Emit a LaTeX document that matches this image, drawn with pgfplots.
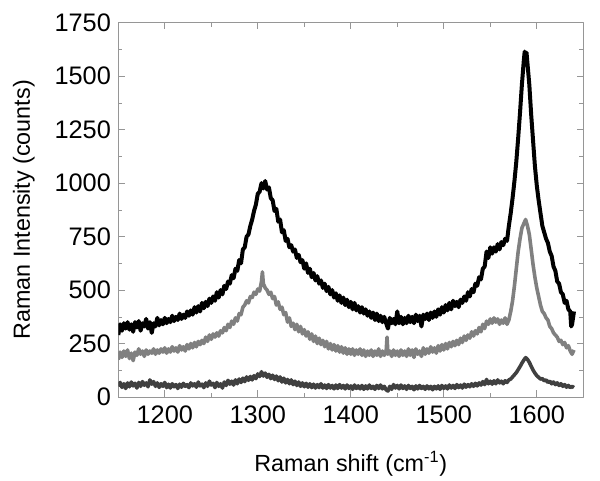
\documentclass[border=0pt]{standalone}
\usepackage{fontspec}
\setmainfont{Liberation Sans}
\usepackage{pgfplots}
\pgfplotsset{compat=1.18}

\definecolor{framegray}{RGB}{150,150,150}
\definecolor{midgray}{RGB}{128,128,128}
\definecolor{darkgray}{RGB}{64,64,64}

\begin{document}
\begin{tikzpicture}
\path[use as bounding box] (-88.7pt,-62.25pt) rectangle (361.3pt,297.75pt);
\begin{axis}[
    scale only axis,
    width=348.75pt, height=280.7pt,
    xmin=1150, xmax=1650,
    ymin=0, ymax=1750,
    xtick={1200,1300,1400,1500,1600},
    ytick={0,250,500,750,1000,1250,1500,1750},
    minor x tick num=1,
    minor y tick num=1,
    tick align=inside,
    major tick length=5pt,
    minor tick length=3pt,
    axis line style={framegray},
    every tick/.style={framegray},
    /pgf/number format/assume math mode=true,
    /pgf/number format/1000 sep={},
    tick label style={font=\fontsize{19}{21}\selectfont},
    xticklabel style={yshift=-3pt},
    yticklabel style={xshift=-2pt},
    label style={font=\fontsize{17.5}{20}\selectfont},
    xlabel={Raman shift (cm\textsuperscript{-1})},
    ylabel={Raman Intensity (counts)},
    xlabel style={yshift=-14pt},
    ylabel style={yshift=8pt},
    line join=round,
]
% top spectrum
\addplot[black, line width=3pt, mark=none] coordinates {
(1150,290) (1152,340) (1154,310) (1156,345) (1158,320) (1160,350) (1162,315) (1164,340) (1166,305) (1168,350)
(1170,325) (1172,355) (1174,310) (1176,345) (1178,330) (1180,365) (1182,320) (1184,350) (1186,300) (1188,345)
(1190,330) (1192,370) (1194,335) (1196,360) (1198,340) (1200,370) (1202,345) (1204,365) (1206,350) (1208,380)
(1210,355) (1212,375) (1214,360) (1216,390) (1218,365) (1220,385) (1222,370) (1224,400) (1226,380) (1228,405)
(1230,385) (1232,420) (1234,395) (1236,425) (1238,400) (1240,440) (1242,415) (1244,445) (1246,425) (1248,460)
(1250,440) (1252,470) (1254,450) (1256,490) (1258,465) (1260,500) (1262,480) (1264,520) (1266,505) (1268,540)
(1270,530) (1272,570) (1274,555) (1276,600) (1278,590) (1280,640) (1282,625) (1284,690) (1286,700) (1288,750)
(1290,760) (1292,800) (1294,830) (1296,870) (1298,900) (1300,950) (1302,960) (1304,1000) (1306,975) (1308,1010)
(1310,970) (1312,980) (1314,930) (1316,920) (1318,870) (1320,880) (1322,820) (1324,830) (1326,770) (1328,780)
(1330,730) (1332,740) (1334,700) (1336,710) (1338,680) (1340,690) (1342,650) (1344,665) (1346,630) (1348,640)
(1350,600) (1352,625) (1354,580) (1356,600) (1358,560) (1360,580) (1362,545) (1364,565) (1366,530) (1368,545)
(1370,510) (1372,530) (1374,495) (1376,515) (1378,480) (1380,500) (1382,465) (1384,485) (1386,450) (1388,475)
(1390,440) (1392,465) (1394,430) (1396,455) (1398,420) (1400,445) (1402,410) (1404,440) (1406,405) (1408,425)
(1410,395) (1412,420) (1414,390) (1416,410) (1418,380) (1420,400) (1422,370) (1424,395) (1426,360) (1428,390)
(1430,355) (1432,380) (1434,350) (1436,375) (1438,345) (1440,320) (1442,370) (1444,345) (1446,365) (1448,340)
(1450,400) (1452,345) (1454,375) (1456,340) (1458,370) (1460,345) (1462,380) (1464,350) (1466,375) (1468,345)
(1470,385) (1472,355) (1474,380) (1476,330) (1478,385) (1480,365) (1482,390) (1484,360) (1486,395) (1488,370)
(1490,400) (1492,375) (1494,410) (1496,385) (1498,420) (1500,395) (1502,430) (1504,405) (1506,440) (1508,410)
(1510,450) (1512,425) (1514,445) (1516,420) (1518,455) (1520,440) (1522,470) (1524,450) (1526,490) (1528,470)
(1530,505) (1532,490) (1534,530) (1536,520) (1538,560) (1540,550) (1542,600) (1544,610) (1546,680) (1548,650)
(1550,700) (1552,670) (1554,700) (1556,680) (1558,715) (1560,690) (1562,725) (1564,710) (1566,740) (1568,730)
(1570,800) (1572,860) (1574,930) (1576,1010) (1578,1100) (1580,1210) (1582,1330) (1584,1460) (1586,1570) (1587,1615)
(1588,1590) (1589,1610) (1590,1560) (1592,1460) (1594,1320) (1596,1200) (1598,1080) (1600,990) (1602,920) (1604,860)
(1606,800) (1608,770) (1610,740) (1612,720) (1614,680) (1616,660) (1618,610) (1620,590) (1622,540) (1624,530)
(1626,490) (1628,480) (1630,440) (1632,450) (1634,410) (1636,400) (1637,330) (1638,340) (1640,400)
};
% middle spectrum
\addplot[midgray, line width=2.7pt, mark=none] coordinates {
(1150,175) (1152,210) (1154,185) (1156,215) (1158,190) (1160,220) (1162,180) (1164,205) (1166,170) (1168,210)
(1170,195) (1172,225) (1174,200) (1176,215) (1178,190) (1180,220) (1182,200) (1184,215) (1186,205) (1188,225)
(1190,200) (1192,220) (1194,205) (1196,225) (1198,210) (1200,230) (1202,205) (1204,225) (1206,210) (1208,235)
(1210,215) (1212,230) (1214,210) (1216,240) (1218,220) (1220,235) (1222,215) (1224,245) (1226,225) (1228,250)
(1230,230) (1232,255) (1234,235) (1236,260) (1238,245) (1240,265) (1242,250) (1244,280) (1246,260) (1248,290)
(1250,270) (1252,295) (1254,280) (1256,300) (1258,285) (1260,310) (1262,300) (1264,325) (1266,310) (1268,340)
(1270,325) (1272,355) (1274,340) (1276,370) (1278,355) (1280,390) (1282,385) (1284,420) (1286,430) (1288,450)
(1290,440) (1292,470) (1294,465) (1296,490) (1298,480) (1300,505) (1302,495) (1304,540) (1305,585) (1306,530)
(1308,510) (1310,500) (1312,480) (1314,490) (1316,460) (1318,470) (1320,430) (1322,445) (1324,410) (1326,420)
(1328,385) (1330,395) (1332,350) (1334,370) (1336,330) (1338,345) (1340,315) (1342,340) (1344,305) (1346,330)
(1348,295) (1350,315) (1352,285) (1354,305) (1356,270) (1358,295) (1360,260) (1362,285) (1364,250) (1366,275)
(1368,245) (1370,265) (1372,235) (1374,260) (1376,225) (1378,250) (1380,220) (1382,245) (1384,215) (1386,240)
(1388,210) (1390,235) (1392,205) (1394,230) (1396,200) (1398,225) (1400,200) (1402,225) (1404,195) (1406,220)
(1408,200) (1410,225) (1412,195) (1414,220) (1416,190) (1418,215) (1420,195) (1422,220) (1424,190) (1426,215)
(1428,195) (1430,225) (1432,190) (1434,215) (1436,195) (1438,210) (1439,280) (1440,200) (1442,215) (1444,190)
(1446,220) (1448,195) (1450,215) (1452,190) (1454,220) (1456,195) (1458,215) (1460,190) (1462,225) (1464,195)
(1466,220) (1468,185) (1470,225) (1472,200) (1474,215) (1476,190) (1478,230) (1480,200) (1482,225) (1484,205)
(1486,235) (1488,210) (1490,230) (1492,205) (1494,240) (1496,215) (1498,245) (1500,220) (1502,250) (1504,225)
(1506,255) (1508,235) (1510,260) (1512,240) (1514,265) (1516,245) (1518,275) (1520,255) (1522,285) (1524,265)
(1526,290) (1528,275) (1530,305) (1532,285) (1534,310) (1536,295) (1538,325) (1540,305) (1542,340) (1544,320)
(1546,355) (1548,340) (1550,365) (1552,345) (1554,370) (1556,350) (1558,365) (1560,340) (1562,360) (1564,345)
(1566,370) (1568,340) (1570,360) (1572,400) (1574,450) (1576,520) (1578,600) (1580,680) (1582,740) (1584,790)
(1586,810) (1588,830) (1590,800) (1592,760) (1594,690) (1596,620) (1598,560) (1600,510) (1602,470) (1604,430)
(1606,400) (1608,390) (1610,370) (1612,360) (1614,330) (1616,320) (1618,300) (1620,290) (1622,280) (1624,260)
(1626,265) (1628,245) (1630,255) (1632,230) (1634,240) (1636,215) (1638,200) (1640,220)
};
% bottom spectrum
\addplot[darkgray, line width=2.7pt, mark=none] coordinates {
(1150,50) (1152,68) (1154,45) (1156,62) (1158,40) (1160,66) (1162,48) (1164,70) (1166,52) (1168,64)
(1170,42) (1172,68) (1174,50) (1176,72) (1178,55) (1180,66) (1182,48) (1184,80) (1186,60) (1188,72)
(1190,50) (1192,66) (1194,45) (1196,62) (1198,50) (1200,68) (1202,44) (1204,60) (1206,42) (1208,62)
(1210,48) (1212,58) (1214,40) (1216,60) (1218,46) (1220,64) (1222,50) (1224,58) (1226,44) (1228,66)
(1230,52) (1232,62) (1234,46) (1236,70) (1238,52) (1240,60) (1242,44) (1244,66) (1246,50) (1248,74)
(1250,56) (1252,64) (1254,44) (1256,68) (1258,50) (1260,62) (1262,42) (1264,70) (1266,54) (1268,78)
(1270,60) (1272,74) (1274,56) (1276,80) (1278,62) (1280,84) (1282,68) (1284,88) (1286,72) (1288,94)
(1290,78) (1292,96) (1294,80) (1296,100) (1298,86) (1300,108) (1302,96) (1304,118) (1306,98) (1308,112)
(1310,92) (1312,106) (1314,86) (1316,102) (1318,82) (1320,98) (1322,76) (1324,94) (1326,70) (1328,88)
(1330,66) (1332,82) (1334,62) (1336,80) (1338,58) (1340,74) (1342,54) (1344,70) (1346,50) (1348,66)
(1350,48) (1352,64) (1354,46) (1356,62) (1358,44) (1360,60) (1362,42) (1364,58) (1366,44) (1368,62)
(1370,42) (1372,56) (1374,40) (1376,58) (1378,42) (1380,54) (1382,38) (1384,56) (1386,40) (1388,58)
(1390,42) (1392,54) (1394,38) (1396,56) (1398,40) (1400,52) (1402,36) (1404,56) (1406,40) (1408,52)
(1410,38) (1412,54) (1414,36) (1416,52) (1418,38) (1420,56) (1422,40) (1424,50) (1426,36) (1428,54)
(1430,40) (1432,56) (1434,38) (1436,50) (1438,34) (1440,28) (1442,50) (1444,36) (1446,58) (1448,42)
(1450,54) (1452,38) (1454,56) (1456,40) (1458,52) (1460,36) (1462,54) (1464,40) (1466,50) (1468,34)
(1470,52) (1472,38) (1474,54) (1476,40) (1478,50) (1480,36) (1482,52) (1484,38) (1486,50) (1488,34)
(1490,50) (1492,38) (1494,52) (1496,36) (1498,54) (1500,40) (1502,52) (1504,38) (1506,56) (1508,42)
(1510,54) (1512,40) (1514,58) (1516,44) (1518,56) (1520,42) (1522,60) (1524,46) (1526,58) (1528,48)
(1530,62) (1532,50) (1534,64) (1536,52) (1538,66) (1540,56) (1542,72) (1544,58) (1546,82) (1548,62)
(1550,74) (1552,60) (1554,76) (1556,62) (1558,80) (1560,66) (1562,74) (1564,62) (1566,76) (1568,68)
(1570,80) (1572,84) (1574,94) (1576,104) (1578,114) (1580,128) (1582,142) (1584,158) (1586,172) (1588,184)
(1590,176) (1592,162) (1594,144) (1596,126) (1598,112) (1600,100) (1602,92) (1604,84) (1606,86) (1608,76)
(1610,80) (1612,68) (1614,74) (1616,62) (1618,70) (1620,58) (1622,66) (1624,54) (1626,62) (1628,50)
(1630,58) (1632,46) (1634,54) (1636,44) (1638,50) (1640,44)
};
\end{axis}
\end{tikzpicture}
\end{document}
